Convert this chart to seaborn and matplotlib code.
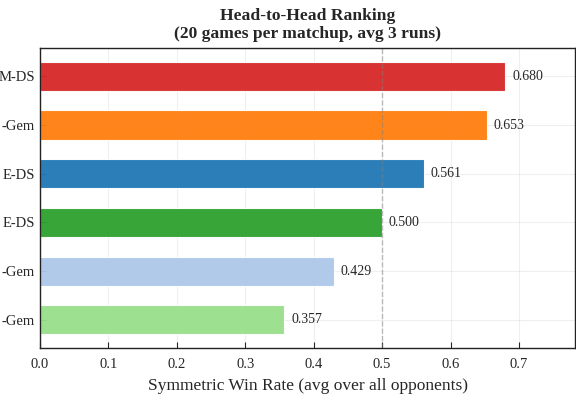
import pandas as pd
import matplotlib
matplotlib.use("Agg")
import matplotlib.pyplot as plt
import seaborn as sns

# Ranking data (top to bottom); tick labels are the parts visible in the chart
ranks = ["r1", "r2", "r3", "r4", "r5", "r6"]
tick_labels = ["M-DS", "-Gem", "E-DS", "E-DS", "-Gem", "-Gem"]
win_rates = [0.680, 0.653, 0.561, 0.500, 0.429, 0.357]
bar_colors = ["#d62728", "#ff7f0e", "#1f77b4", "#2ca02c", "#aec7e8", "#98df8a"]

df = pd.DataFrame({"rank": ranks, "win_rate": win_rates})

sns.set_style("white")
plt.rcParams["font.family"] = ["Liberation Serif", "DejaVu Serif"]

fig = plt.figure(figsize=(5.76, 4.01), dpi=100)
ax = fig.add_axes([0.0694, 0.132, 0.929, 0.748])

sns.barplot(data=df, y="rank", x="win_rate", hue="rank", palette=bar_colors,
            orient="h", width=0.6, legend=False, ax=ax, saturation=1,
            edgecolor="white", linewidth=0.8, alpha=0.95)

ax.set_yticks(range(len(tick_labels)), tick_labels)
n = len(ranks)
ax.set_ylim(n - 1 + 0.3 + 0.28, -0.3 - 0.28)

# Value labels
for i, v in enumerate(win_rates):
    ax.text(v + 0.01, i, f"{v:.3f}", va="center", ha="left", fontsize=10)

ax.axvline(0.5, color="gray", linestyle="--", linewidth=1, alpha=0.5)
ax.set_xlim(0, max(win_rates) * 1.15)
ax.grid(True, alpha=0.3)
ax.set_axisbelow(True)

ax.set_title("Head-to-Head Ranking\n(20 games per matchup, avg 3 runs)",
             fontsize=12.6, fontweight="bold", pad=7)
ax.set_xlabel("Symmetric Win Rate (avg over all opponents)", fontsize=12.5,
              labelpad=5)
ax.set_ylabel("")
ax.tick_params(axis="both", direction="in", labelsize=10.5, length=4,
               left=True, bottom=True)
ax.tick_params(axis="x", pad=7)

for s in ax.spines.values():
    s.set_color("#222222")
    s.set_linewidth(1.0)

fig.savefig("out.png", dpi=100)
